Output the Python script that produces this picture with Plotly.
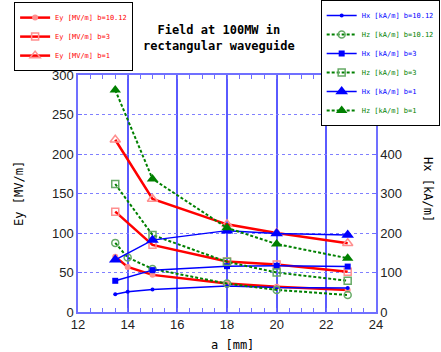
import plotly.graph_objects as go

# ---- data ----
a_fine = [13.5, 14, 15, 18, 20, 22.86]   # b=10.12 series
a_main = [13.5, 15, 18, 20, 22.86]       # b=3 and b=1 series

ey_b1012 = [70, 57, 47, 36, 32, 28]
ey_b3 = [127, 85, 64, 60, 51]
ey_b1 = [218, 143, 111, 100, 87]

hx_b1012 = [45, 51, 57, 66, 62, 61]
hz_b1012 = [175, 138, 109, 72, 56, 43]
hx_b3 = [79, 106, 116, 117, 115]
hz_b3 = [324, 195, 127, 100, 79]
hx_b1 = [132, 182, 206, 199, 195]
hz_b1 = [562, 337, 213, 172, 136]

x_ticks = [12, 14, 16, 18, 20, 22, 24]
h_ticks = [0, 100, 200, 300, 400, 500]

RED = "#ff0000"
PINK = "#ff8f8f"
BLUE = "#0000ff"
GREEN = "#008000"
HZDASH = "3px,2px"


def lbl(text, color):
    return f"<span style='color:{color}'>{text}</span>"


fig = go.Figure()

# Ey traces (left axis)
fig.add_trace(go.Scatter(x=a_fine, y=ey_b1012, mode="lines+markers",
                         name=lbl("Ey [MV/m] b=10.12", RED), legend="legend",
                         line=dict(color=RED, width=2.5),
                         marker=dict(symbol="circle", size=6, color=PINK)))
fig.add_trace(go.Scatter(x=a_main, y=ey_b3, mode="lines+markers",
                         name=lbl("Ey [MV/m] b=3", RED), legend="legend",
                         line=dict(color=RED, width=2.5),
                         marker=dict(symbol="square-open", size=7, color=PINK,
                                     line=dict(width=1.5))))
fig.add_trace(go.Scatter(x=a_main, y=ey_b1, mode="lines+markers",
                         name=lbl("Ey [MV/m] b=1", RED), legend="legend",
                         line=dict(color=RED, width=2.5),
                         marker=dict(symbol="triangle-up-open", size=9, color=PINK,
                                     line=dict(width=1.5))))

# H traces (right axis)
fig.add_trace(go.Scatter(x=a_fine, y=hx_b1012, mode="lines+markers", yaxis="y2",
                         name=lbl("Hx [kA/m] b=10.12", BLUE), legend="legend2",
                         line=dict(color=BLUE, width=1.5),
                         marker=dict(symbol="circle", size=4, color=BLUE)))
fig.add_trace(go.Scatter(x=a_fine, y=hz_b1012, mode="lines+markers", yaxis="y2",
                         name=lbl("Hz [kA/m] b=10.12", GREEN), legend="legend2",
                         line=dict(color=GREEN, width=2, dash=HZDASH),
                         marker=dict(symbol="circle-open", size=7, color="#66aa66",
                                     line=dict(width=1.5))))
fig.add_trace(go.Scatter(x=a_main, y=hx_b3, mode="lines+markers", yaxis="y2",
                         name=lbl("Hx [kA/m] b=3", BLUE), legend="legend2",
                         line=dict(color=BLUE, width=1.5),
                         marker=dict(symbol="square", size=6, color=BLUE)))
fig.add_trace(go.Scatter(x=a_main, y=hz_b3, mode="lines+markers", yaxis="y2",
                         name=lbl("Hz [kA/m] b=3", GREEN), legend="legend2",
                         line=dict(color=GREEN, width=2, dash=HZDASH),
                         marker=dict(symbol="square-open", size=7, color="#66aa66",
                                     line=dict(width=1.5))))
fig.add_trace(go.Scatter(x=a_main, y=hx_b1, mode="lines+markers", yaxis="y2",
                         name=lbl("Hx [kA/m] b=1", BLUE), legend="legend2",
                         line=dict(color=BLUE, width=1.5),
                         marker=dict(symbol="triangle-up", size=11, color=BLUE)))
fig.add_trace(go.Scatter(x=a_main, y=hz_b1, mode="lines+markers", yaxis="y2",
                         name=lbl("Hz [kA/m] b=1", GREEN), legend="legend2",
                         line=dict(color=GREEN, width=2, dash=HZDASH),
                         marker=dict(symbol="triangle-up", size=10, color=GREEN)))

AX = "#7070ff"
TICKFONT = dict(family="Liberation Sans Narrow, Liberation Sans", size=13,
                color="#222222")
MONO = "DejaVu Sans Mono"
C = dict(xanchor="center", yanchor="middle", xref="paper", yref="paper",
         showarrow=False)

fig.update_layout(
    width=441, height=352,
    margin=dict(l=78, r=65, t=75, b=40, autoexpand=False),
    paper_bgcolor="white", plot_bgcolor="white",
    showlegend=True,
    xaxis=dict(range=[12, 24], tickvals=x_ticks, ticks="inside", ticklen=4,
               tickcolor=AX, showline=True, linecolor=AX, linewidth=1.5,
               mirror="allticks", showgrid=True, gridcolor="#5a5aff", gridwidth=1.5,
               zeroline=False, tickfont=TICKFONT,
               minor=dict(dtick=0.5, ticks="inside", ticklen=2, tickcolor=AX,
                          showgrid=False)),
    yaxis=dict(range=[0, 300], dtick=50, ticks="inside", ticklen=4, tickcolor=AX,
               showline=True, linecolor=AX, linewidth=1.5,
               showgrid=True, gridcolor="#8080ff", gridwidth=1.2, griddash="dot",
               zeroline=False, tickfont=TICKFONT),
    yaxis2=dict(range=[0, 600], tickvals=h_ticks, overlaying="y", side="right",
                ticks="inside", ticklen=4, tickcolor=AX,
                showline=True, linecolor=AX, linewidth=1.5,
                showgrid=False, zeroline=False, tickfont=TICKFONT),
    legend=dict(xref="container", yref="container", x=0.032, y=0.994,
                xanchor="left", yanchor="top",
                bgcolor="white", bordercolor="black", borderwidth=1,
                font=dict(family=MONO, size=7, color=RED),
                itemwidth=30, tracegroupgap=0),
    legend2=dict(xref="container", yref="container", x=0.997, y=1.0,
                 xanchor="right", yanchor="top",
                 bgcolor="white", bordercolor="black", borderwidth=1,
                 font=dict(family=MONO, size=7, color=BLUE),
                 itemwidth=30, tracegroupgap=0),
    annotations=[
        dict(text="<b>Field at 100MW in<br>rectangular waveguide</b>",
             x=0.473, y=1.156, font=dict(family=MONO, size=12, color="black"), **C),
        dict(text="Ey [MV/m]", x=-0.2, y=0.5, textangle=-90,
             font=dict(family=MONO, size=12, color="black"), **C),
        dict(text="Hx [kA/m]", x=1.174, y=0.515, textangle=90,
             font=dict(family=MONO, size=12, color="black"), **C),
        dict(text="a [mm]", x=0.52, y=-0.139,
             font=dict(family=MONO, size=12, color="black"), **C),
    ],
)

fig.write_html("out.html")
